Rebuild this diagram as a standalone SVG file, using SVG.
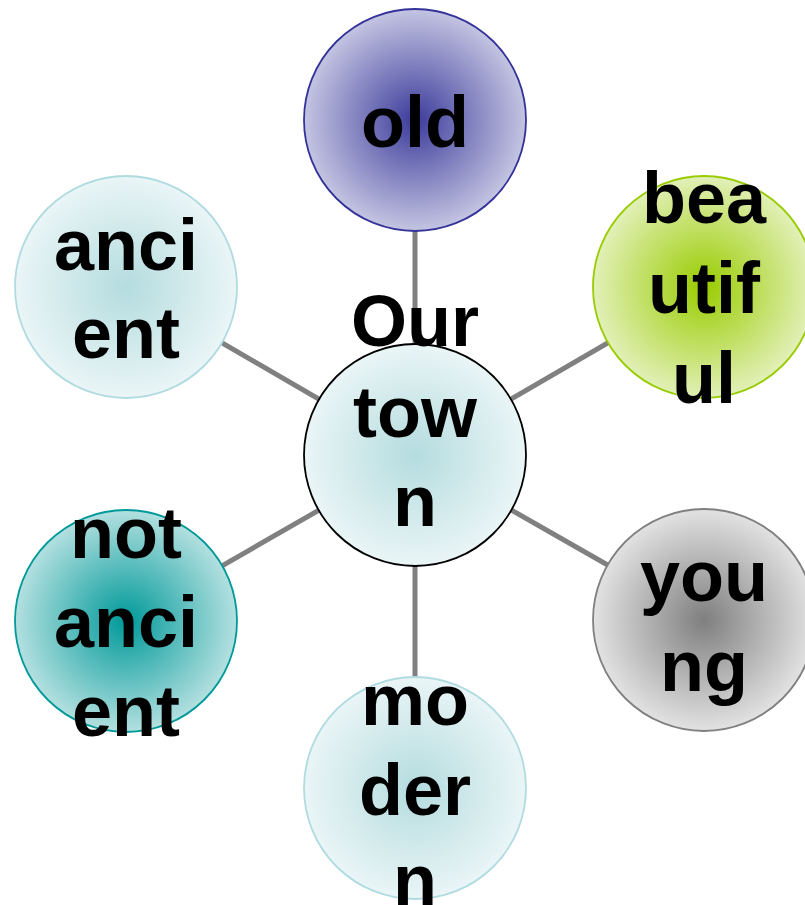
<svg xmlns="http://www.w3.org/2000/svg" width="805" height="905" viewBox="0 0 805 905">
<defs>
<radialGradient id="gBlue"><stop offset="0" stop-color="#3c3c9c"/><stop offset="1" stop-color="#c4c4e2"/></radialGradient>
<radialGradient id="gGreen"><stop offset="0" stop-color="#99cc00"/><stop offset="1" stop-color="#e2f0b8"/></radialGradient>
<radialGradient id="gLight"><stop offset="0" stop-color="#b4dcdf"/><stop offset="1" stop-color="#eaf5f6"/></radialGradient>
<radialGradient id="gTeal"><stop offset="0" stop-color="#009999"/><stop offset="1" stop-color="#b4e0e0"/></radialGradient>
<radialGradient id="gGray"><stop offset="0" stop-color="#7f7f7f"/><stop offset="1" stop-color="#e2e2e2"/></radialGradient>
</defs>
<style>
.c{stroke-width:1.8}
.t{font-family:"Liberation Sans",Arial,sans-serif;font-weight:bold;font-size:72px;fill:#000;text-anchor:middle}
.ln{stroke:#808080;stroke-width:5;fill:none}
</style>
<rect width="805" height="905" fill="#fff"/>
<g id="connectors">
<line class="ln" x1="415" y1="455" x2="415" y2="120"/>
<line class="ln" x1="415" y1="455" x2="704" y2="287"/>
<line class="ln" x1="415" y1="455" x2="704" y2="620"/>
<line class="ln" x1="415" y1="455" x2="415" y2="788"/>
<line class="ln" x1="415" y1="455" x2="126" y2="621"/>
<line class="ln" x1="415" y1="455" x2="126" y2="287"/>
</g>
<g id="center">
<circle class="c" cx="415" cy="455" r="111" fill="url(#gLight)" stroke="#000"/>
</g>
<g id="old">
<circle class="c" cx="415" cy="120" r="111" fill="url(#gBlue)" stroke="#333399"/>
<text class="t" x="415" y="147">old</text>
</g>
<g id="beautiful">
<circle class="c" cx="704" cy="287" r="111" fill="url(#gGreen)" stroke="#99cc00"/>
<text class="t" x="704" y="223">bea</text>
<text class="t" x="704" y="313">utif</text>
<text class="t" x="704" y="403">ul</text>
</g>
<g id="young">
<circle class="c" cx="704" cy="620" r="111" fill="url(#gGray)" stroke="#808080"/>
<text class="t" x="704" y="601">you</text>
<text class="t" x="704" y="691">ng</text>
</g>
<g id="modern">
<circle class="c" cx="415" cy="788" r="111" fill="url(#gLight)" stroke="#b0dbe0"/>
<text class="t" x="415" y="725">mo</text>
<text class="t" x="415" y="815">der</text>
<text class="t" x="415" y="905">n</text>
</g>
<g id="notancient">
<circle class="c" cx="126" cy="621" r="111" fill="url(#gTeal)" stroke="#009999"/>
<text class="t" x="126" y="558">not</text>
<text class="t" x="126" y="647">anci</text>
<text class="t" x="126" y="736">ent</text>
</g>
<g id="ancient">
<circle class="c" cx="126" cy="287" r="111" fill="url(#gLight)" stroke="#b0dbe0"/>
<text class="t" x="126" y="270">anci</text>
<text class="t" x="126" y="358">ent</text>
</g>
<g id="center-label">
<text class="t" x="415" y="346">Our</text>
<text class="t" x="415" y="437">tow</text>
<text class="t" x="415" y="526">n</text>
</g>
</svg>
